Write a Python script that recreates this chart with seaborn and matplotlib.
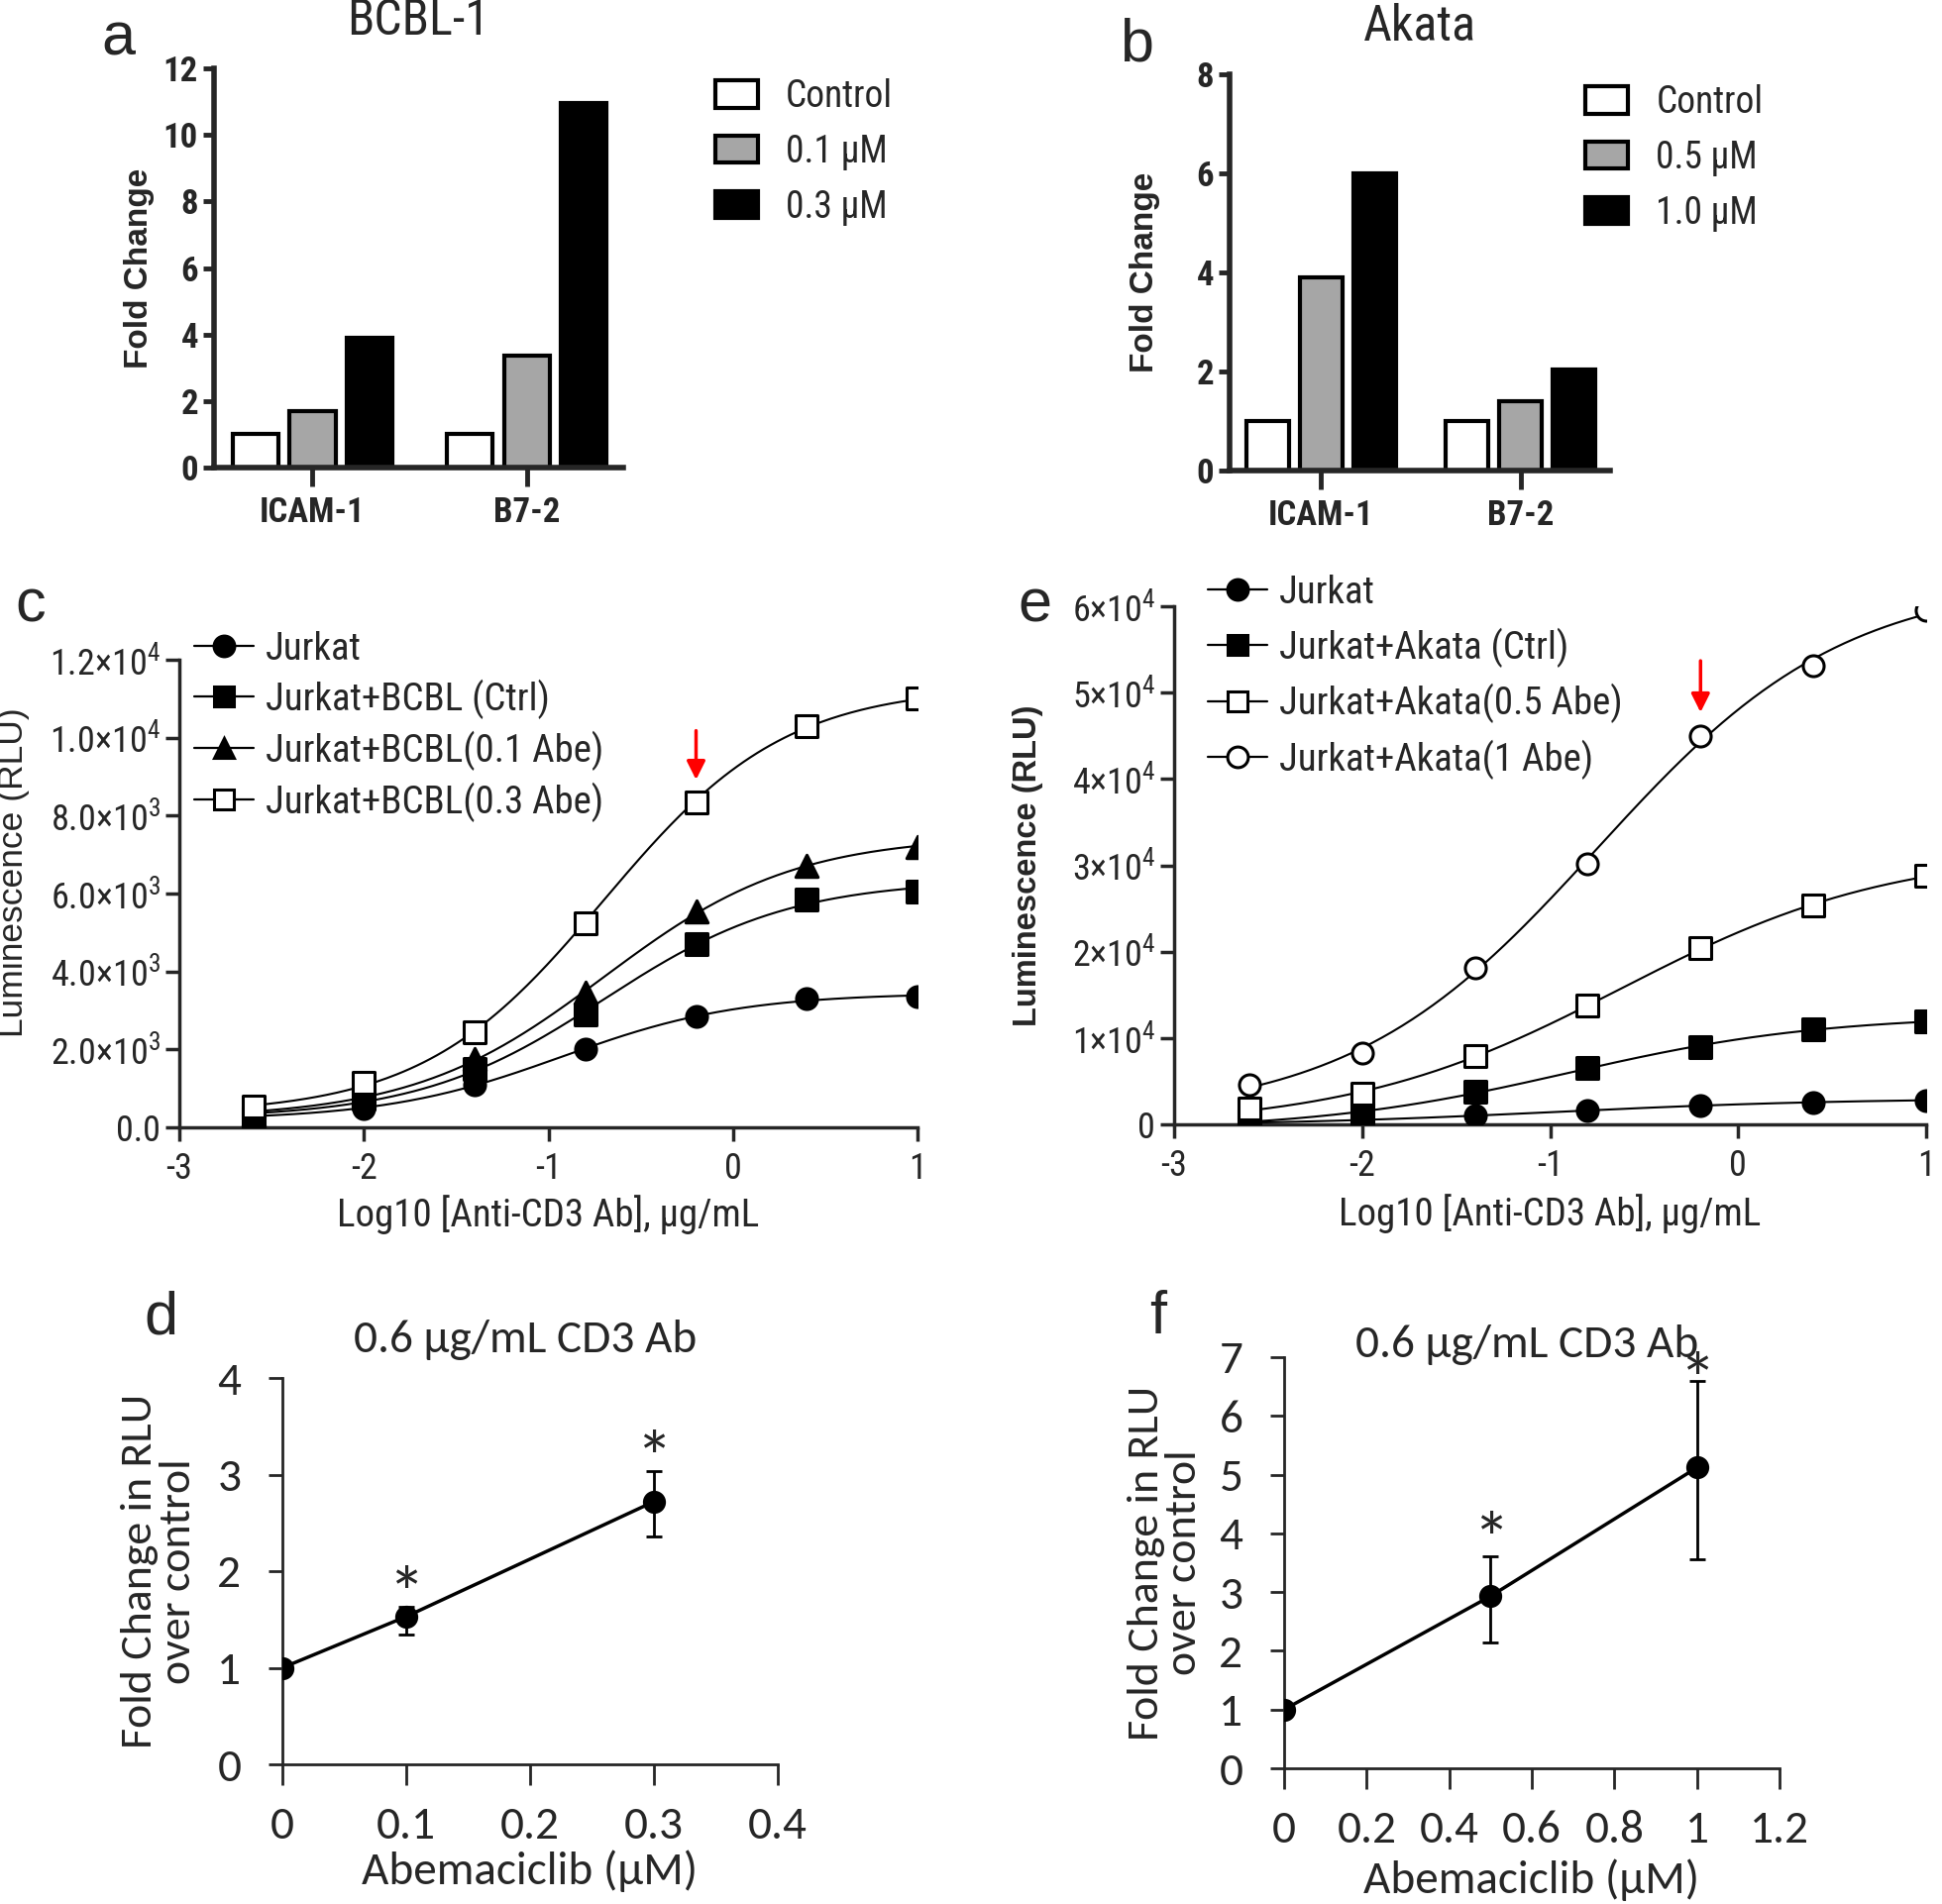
import numpy as np
import pandas as pd
import seaborn as sns
import matplotlib.pyplot as plt
from matplotlib import font_manager
from matplotlib.patches import Patch
from matplotlib.lines import Line2D
from matplotlib.ticker import FuncFormatter

# --- data -----------------------------------------------------------
genes = ['ICAM-1', 'B7-2']
bcbl_doses = ['Control', '0.1 µM', '0.3 µM']
bcbl_fold = [[1.0, 1.7, 3.9], [1.0, 3.35, 10.95]]
akata_doses = ['Control', '0.5 µM', '1.0 µM']
akata_fold = [[1.0, 3.9, 6.0], [1.0, 1.4, 2.05]]

log_cd3 = [-2.6, -2.0, -1.4, -0.8, -0.2, 0.4, 1.0]
bcbl_labels = ['Jurkat', 'Jurkat+BCBL (Ctrl)', 'Jurkat+BCBL(0.1 Abe)', 'Jurkat+BCBL(0.3 Abe)']
bcbl_rlu = [
    [300, 480, 1100, 2000, 2850, 3300, 3350],
    [260, 750, 1500, 2900, 4700, 5850, 6050],
    [320, 850, 1750, 3450, 5550, 6700, 7200],
    [530, 1150, 2450, 5250, 8350, 10300, 11000],
]
akata_labels = ['Jurkat', 'Jurkat+Akata (Ctrl)', 'Jurkat+Akata(0.5 Abe)', 'Jurkat+Akata(1 Abe)']
akata_rlu = [
    [200, 500, 1000, 1650, 2150, 2550, 2800],
    [450, 1200, 3800, 6500, 9000, 11000, 11900],
    [1800, 3500, 7900, 13800, 20400, 25300, 28800],
    [4600, 8300, 18100, 30200, 45000, 53100, 59500],
]

abe_d = [0, 0.1, 0.3]
fold_d = [1.0, 1.53, 2.72]
err_lo_d = [0.0, 0.19, 0.36]
err_hi_d = [0.0, 0.10, 0.32]
abe_f = [0, 0.5, 1.0]
fold_f = [1.0, 2.93, 5.12]
err_lo_f = [0.0, 0.78, 1.56]
err_hi_f = [0.0, 0.68, 1.48]


def pick(names):
    for n in names:
        try:
            font_manager.findfont(n, fallback_to_default=False)
            return n
        except ValueError:
            pass
    return 'DejaVu Sans'


sns.set_style('ticks')
narrow = pick(['Liberation Sans Narrow', 'Arial Narrow', 'Roboto Condensed',
               'Archivo Narrow', 'PT Sans Narrow', 'Liberation Sans'])
arial = pick(['Liberation Sans', 'Arimo'])
calib = pick(['Carlito', 'Lato'])
plt.rcParams['font.family'] = [narrow, 'DejaVu Sans']
plt.rcParams['mathtext.fontset'] = 'custom'
plt.rcParams['mathtext.rm'] = narrow
plt.rcParams['axes.linewidth'] = 2.5
plt.rcParams['xtick.major.width'] = 2.5
plt.rcParams['ytick.major.width'] = 2.5

W, H = 1960, 1922
fig = plt.figure(figsize=(W / 100, H / 100), dpi=100)


def box(L, R, T, B):
    return [L / W, 1 - B / H, (R - L) / W, (B - T) / H]


def fit4pl(x, y):
    # grid over ec50/hill, linear solve for bottom/top
    x = np.asarray(x, float)
    y = np.asarray(y, float)
    best = None
    for c in np.linspace(-2.5, 1.5, 161):
        for h in np.linspace(0.3, 2.5, 111):
            s = 1 / (1 + 10 ** ((c - x) * h))
            A = np.column_stack([1 - s, s])
            coef, *_ = np.linalg.lstsq(A, y, rcond=None)
            r = np.sum((A @ coef - y) ** 2)
            if best is None or r < best[0]:
                best = (r, c, h, coef)
    _, c, h, (b, t) = best
    return lambda v: b + (t - b) / (1 + 10 ** ((c - v) * h))


# --- a / b : bar charts ---------------------------------------------
def bar_panel(rect, fold, doses, ymax, title, leg_anchor, ylab_x, letter, letter_xy):
    ax = fig.add_axes(rect)
    df = pd.DataFrame([(g, d, fold[i][j]) for i, g in enumerate(genes)
                       for j, d in enumerate(doses)], columns=['gene', 'dose', 'fold'])
    cols = ['white', '#a6a6a6', 'black']
    sns.barplot(data=df, x='gene', y='fold', hue='dose', palette=cols,
                edgecolor='black', linewidth=3, gap=0.2, ax=ax, legend=False)
    ax.set_xlim(-0.46, 1.45)
    ax.set_ylim(0, ymax)
    ax.set_yticks(np.arange(0, ymax + 1, 2))
    sns.despine(ax=ax)
    for s in ['left', 'bottom']:
        ax.spines[s].set_linewidth(4)
    ax.tick_params(axis='x', length=14, width=3.5, pad=7, labelsize=25)
    ax.tick_params(axis='y', length=8, width=3.5, labelsize=25)
    for t in ax.get_xticklabels() + ax.get_yticklabels():
        t.set_fontweight('bold')
    ax.set_xlabel('')
    ax.set_ylabel('Fold Change', family=arial, fontweight='bold', fontsize=24)
    ax.yaxis.set_label_coords(ylab_x, 0.5)
    ax.text(0.5, 1.12, title, transform=ax.transAxes, ha='center', va='center', fontsize=36)
    handles = [Patch(facecolor=c, edgecolor='black', linewidth=3) for c in cols]
    ax.legend(handles, doses, loc='upper left', bbox_to_anchor=leg_anchor, frameon=False,
              fontsize=27, handlelength=1.15, handleheight=0.75, handletextpad=0.75,
              labelspacing=0.5, borderpad=0, borderaxespad=0)
    fig.text(letter_xy[0] / W, 1 - letter_xy[1] / H, letter, family=arial,
             fontsize=44, ha='center', va='center')
    return ax


bar_panel(box(216, 629, 69, 472), bcbl_fold, bcbl_doses, 12, 'BCBL-1',
          (1.225, 0.975), -0.145, 'a', (119, 40))
bar_panel(box(1241, 1625, 75, 475), akata_fold, akata_doses, 8, 'Akata',
          (0.935, 0.975), -0.182, 'b', (1147, 46))


# --- c / e : dose response curves -----------------------------------
def sci_c(v, _):
    if v == 0:
        return '0.0'
    e = int(np.floor(np.log10(v)))
    return r'$%.1f{\times}10^{%d}$' % (v / 10 ** e, e)


def sci_e(v, _):
    if v == 0:
        return '0'
    e = int(np.floor(np.log10(v)))
    return r'$%d{\times}10^{%d}$' % (round(v / 10 ** e), e)


def curve_panel(rect, rlu, labels, markers, ymax, ystep, fmt, arrow, leg_anchor, leg_sp,
                ylab_kw, ylab_xy, xlab_y, letter, letter_xy):
    ax = fig.add_axes(rect)
    xs = np.linspace(log_cd3[0], log_cd3[-1], 200)
    handles = []
    for vals, lab, (mk, filled) in zip(rlu, labels, markers):
        f = fit4pl(log_cd3, vals)
        sns.lineplot(x=xs, y=f(xs), color='black', lw=1.5, ax=ax)
        fc = 'black' if filled else 'white'
        sns.scatterplot(x=log_cd3, y=vals, marker=mk, s=230 if mk != '^' else 260,
                        facecolor=fc, edgecolor='black', linewidth=2.2, ax=ax, zorder=3)
        handles.append(Line2D([], [], color='black', lw=1.6, marker=mk, ms=15,
                              mfc=fc, mec='black', mew=2.2))
    ax.set_xlim(-3, 1)
    ax.set_ylim(0, ymax)
    ax.set_xticks([-3, -2, -1, 0, 1])
    ax.set_xticklabels(['-3', '-2', '-1', '0', '1'])
    ax.set_yticks(np.arange(0, ymax + 1, ystep))
    ax.yaxis.set_major_formatter(FuncFormatter(fmt))
    sns.despine(ax=ax)
    ax.tick_params(axis='both', length=10, labelsize=26)
    ax.tick_params(axis='x', pad=7)
    ax.set_xlabel('Log10 [Anti-CD3 Ab], µg/mL', fontsize=28)
    ax.xaxis.set_label_coords(0.5, xlab_y)
    ax.set_ylabel('Luminescence (RLU)', family=arial, **ylab_kw)
    ax.yaxis.set_label_coords(*ylab_xy)
    ax.annotate('', xy=(-0.2, arrow[1]), xytext=(-0.2, arrow[0]),
                arrowprops=dict(arrowstyle='-|>', color='red', lw=2.5, mutation_scale=28))
    ax.legend(handles, labels, loc='upper left', bbox_to_anchor=leg_anchor, frameon=False,
              fontsize=28, handlelength=1.55, handletextpad=0.3, labelspacing=leg_sp,
              borderpad=0, borderaxespad=0)
    fig.text(letter_xy[0] / W, 1 - letter_xy[1] / H, letter, family=arial,
             fontsize=44, ha='center', va='center')
    return ax


curve_panel(box(181, 926, 666, 1138), bcbl_rlu, bcbl_labels,
            [('o', True), ('s', True), ('^', True), ('s', False)],
            12000, 2000, sci_c, (10250, 8850), (0.02, 1.062), 0.3,
            dict(fontsize=25.5), (-0.203, 0.545), -0.145, 'c', (31, 612))
curve_panel(box(1185, 1944, 612, 1135), akata_rlu, akata_labels,
            [('o', True), ('s', True), ('s', False), ('o', False)],
            60000, 10000, sci_e, (54000, 47400), (0.045, 1.061), 0.42,
            dict(fontsize=23.5, fontweight='bold'), (-0.174, 0.5), -0.135, 'e', (1044, 612))


# --- d / f : fold change vs abemaciclib ------------------------------
def fold_panel(rect, x, y, lo, hi, xmax, xstep, ymax, star_pts, title_y, ylab_x,
               xlab_y, letter, letter_xy):
    ax = fig.add_axes(rect)
    sns.lineplot(x=x, y=y, color='black', lw=2.5, ax=ax)
    ax.errorbar(x, y, yerr=[lo, hi], fmt='none', ecolor='black', elinewidth=2,
                capsize=6, capthick=2)
    sns.scatterplot(x=x, y=y, color='black', s=240, edgecolor='black', ax=ax, zorder=3)
    for xi, yi, hi_i, off in zip(x[1:], y[1:], hi[1:], star_pts):
        ax.annotate('*', xy=(xi, yi + hi_i), xytext=(0, off), textcoords='offset points',
                    ha='center', va='center', family=calib, fontsize=54)
    ticks = np.round(np.arange(0, xmax + 1e-9, xstep), 1)
    ax.set_xlim(0, xmax)
    ax.set_ylim(0, ymax)
    ax.set_xticks(ticks)
    ax.set_xticklabels(['%g' % v for v in ticks])
    ax.set_yticks(range(0, ymax + 1))
    for s in ['top', 'right']:
        ax.spines[s].set_visible(False)
    for s in ['left', 'bottom']:
        ax.spines[s].set_linewidth(2)
    ax.tick_params(axis='x', length=15, width=2, pad=15, labelsize=34)
    ax.tick_params(axis='y', length=10, width=2, pad=20, labelsize=34)
    for t in ax.get_xticklabels() + ax.get_yticklabels():
        t.set_family(calib)
    ax.set_xlabel('Abemaciclib (µM)', family=calib, fontsize=34)
    ax.xaxis.set_label_coords(0.5, xlab_y)
    ax.set_ylabel('Fold Change in RLU\nover control', family=calib, fontsize=33,
                  linespacing=1.0)
    ax.yaxis.set_label_coords(ylab_x, 0.5)
    ax.text(0.49, title_y, '0.6 µg/mL CD3 Ab', transform=ax.transAxes, ha='center',
            va='bottom', family=calib, fontsize=34)
    fig.text(letter_xy[0] / W, 1 - letter_xy[1] / H, letter, family=arial,
             fontsize=44, ha='center', va='center')
    return ax


fold_panel(box(285, 785, 1391, 1781), abe_d, fold_d, err_lo_d, err_hi_d,
           0.4, 0.1, 4, [6, 6], 1.045, -0.173, -0.22, 'd', (162, 1331))
fold_panel(box(1296, 1796, 1370, 1785), abe_f, fold_f, err_lo_f, err_hi_f,
           1.2, 0.2, 7, [9, -3], 0.98, -0.165, -0.22, 'f', (1169, 1331))

fig.savefig('out.png', dpi=100)
